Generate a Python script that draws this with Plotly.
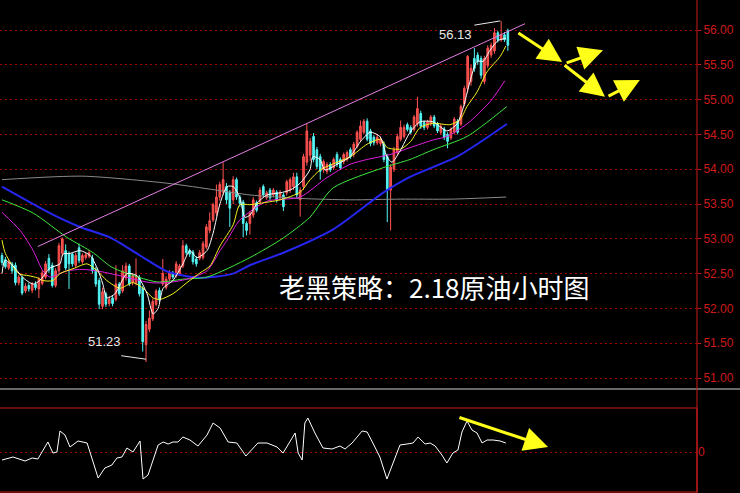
import plotly.graph_objects as go

# ---------------- hourly candles (crude oil) ----------------
opens = [52.76, 52.70, 52.58, 52.64, 52.62, 52.37, 52.44, 52.25, 52.33, 52.26,
         52.35, 52.28, 52.36, 52.45, 52.72, 52.62, 52.33, 52.54, 52.79, 52.83,
         52.78, 52.78, 52.62, 52.87, 52.67, 52.73, 52.75, 52.72, 52.56, 52.40,
         52.03, 52.21, 52.07, 52.15, 52.13, 52.35, 52.25, 52.44, 52.61, 52.37,
         52.36, 52.44, 52.29, 51.48, 51.70, 51.85, 52.06, 52.26, 52.35, 52.30,
         52.42, 52.51, 52.47, 52.50, 52.61, 52.90, 52.83, 52.81, 52.71, 52.72,
         52.73, 52.88, 53.12, 53.27, 53.37, 53.60, 53.67, 53.75, 53.67, 53.56,
         53.85, 53.60, 53.53, 53.22, 53.22, 53.34, 53.52, 53.53, 53.75, 53.59,
         53.70, 53.63, 53.67, 53.59, 53.63, 53.66, 53.70, 53.75, 53.89, 53.56,
         53.75, 54.10, 54.20, 54.47, 54.28, 54.18, 53.99, 53.97, 54.07, 54.02,
         54.21, 54.14, 54.11, 54.14, 54.28, 54.21, 54.33, 54.43, 54.53, 54.69,
         54.55, 54.46, 54.38, 54.37, 54.36, 54.18, 53.70, 54.00, 54.24, 54.43,
         54.47, 54.64, 54.60, 54.57, 54.65, 54.80, 54.67, 54.60, 54.65, 54.75,
         54.65, 54.53, 54.58, 54.50, 54.45, 54.53, 54.69, 54.65, 54.94, 55.16,
         55.26, 55.59, 55.64, 55.59, 55.26, 55.49, 55.64, 55.70, 55.96, 55.86,
         55.93, 55.99]
highs = [52.80, 52.74, 52.70, 52.67, 52.66, 52.48, 52.47, 52.36, 52.37, 52.38,
         52.39, 52.45, 52.55, 52.68, 52.78, 52.66, 52.58, 52.94, 53.02, 52.92,
         52.82, 52.80, 52.80, 52.93, 52.79, 52.80, 52.84, 52.77, 52.60, 52.44,
         52.30, 52.24, 52.18, 52.19, 52.62, 52.38, 52.62, 52.66, 52.64, 52.50,
         52.72, 52.48, 52.32, 51.82, 51.97, 52.14, 52.28, 52.30, 52.71, 52.46,
         52.55, 52.54, 52.68, 52.64, 52.98, 52.93, 52.86, 52.84, 52.75, 52.84,
         52.97, 53.21, 53.38, 53.52, 53.78, 53.82, 54.10, 53.80, 53.70, 53.90,
         53.88, 53.63, 53.56, 53.25, 53.40, 53.60, 53.55, 53.74, 53.78, 53.69,
         53.73, 53.73, 53.70, 53.70, 53.66, 53.85, 53.88, 53.95, 53.95, 53.74,
         54.22, 54.66, 54.45, 54.52, 54.32, 54.22, 54.14, 54.10, 54.10, 54.17,
         54.25, 54.17, 54.24, 54.27, 54.31, 54.39, 54.56, 54.70, 54.72, 54.73,
         54.58, 54.49, 54.50, 54.47, 54.40, 54.22, 54.07, 54.32, 54.51, 54.70,
         54.64, 54.67, 54.63, 54.78, 55.04, 54.84, 54.70, 54.71, 54.78, 54.78,
         54.68, 54.65, 54.61, 54.53, 54.60, 54.75, 54.72, 54.93, 55.20, 55.64,
         55.50, 55.74, 55.68, 55.63, 55.63, 55.78, 55.82, 56.03, 55.99, 56.13,
         55.97, 56.02]
lows = [52.62, 52.57, 52.55, 52.50, 52.33, 52.33, 52.19, 52.22, 52.24, 52.22,
        52.26, 52.15, 52.33, 52.42, 52.51, 52.30, 52.30, 52.50, 52.75, 52.55,
        52.28, 52.60, 52.58, 52.65, 52.64, 52.70, 52.72, 52.50, 52.31, 51.99,
        51.99, 52.02, 52.03, 52.03, 52.10, 52.18, 52.22, 52.40, 52.32, 52.33,
        52.33, 52.17, 51.38, 51.23, 51.66, 51.82, 52.03, 52.09, 52.32, 52.27,
        52.39, 52.42, 52.44, 52.47, 52.58, 52.77, 52.74, 52.63, 52.60, 52.69,
        52.70, 52.85, 53.08, 53.24, 53.33, 53.55, 53.63, 53.50, 53.17, 53.50,
        53.56, 53.46, 53.02, 53.05, 53.06, 53.30, 53.38, 53.49, 53.60, 53.56,
        53.55, 53.60, 53.52, 53.55, 53.40, 53.62, 53.66, 53.70, 53.58, 53.32,
        53.70, 54.05, 54.12, 54.10, 54.00, 53.85, 53.95, 53.93, 53.96, 53.99,
        54.03, 53.99, 54.07, 54.11, 54.15, 54.17, 54.30, 54.40, 54.50, 54.40,
        54.33, 54.34, 54.35, 54.33, 54.10, 53.24, 53.12, 53.96, 54.20, 54.40,
        54.44, 54.54, 54.50, 54.54, 54.61, 54.58, 54.56, 54.57, 54.62, 54.59,
        54.52, 54.50, 54.42, 54.30, 54.42, 54.50, 54.50, 54.62, 54.90, 55.10,
        55.20, 55.40, 55.50, 55.30, 55.22, 55.45, 55.60, 55.66, 55.82, 55.83,
        55.83, 55.70]
closes = [52.66, 52.60, 52.66, 52.54, 52.37, 52.45, 52.22, 52.32, 52.28, 52.35,
          52.30, 52.42, 52.51, 52.64, 52.55, 52.33, 52.54, 52.90, 53.00, 52.58,
          52.64, 52.64, 52.76, 52.69, 52.76, 52.77, 52.80, 52.54, 52.35, 52.06,
          52.24, 52.06, 52.13, 52.07, 52.35, 52.21, 52.54, 52.61, 52.35, 52.47,
          52.47, 52.21, 51.52, 51.77, 51.86, 52.10, 52.25, 52.12, 52.50, 52.42,
          52.51, 52.45, 52.64, 52.61, 52.90, 52.80, 52.78, 52.67, 52.64, 52.80,
          52.93, 53.17, 53.26, 53.49, 53.60, 53.78, 53.85, 53.56, 53.44, 53.85,
          53.60, 53.51, 53.22, 53.12, 53.37, 53.56, 53.41, 53.70, 53.63, 53.66,
          53.59, 53.70, 53.56, 53.67, 53.46, 53.82, 53.85, 53.89, 53.63, 53.70,
          54.18, 54.55, 54.40, 54.14, 54.04, 53.97, 54.11, 54.07, 53.99, 54.14,
          54.07, 54.02, 54.21, 54.24, 54.18, 54.36, 54.53, 54.62, 54.69, 54.43,
          54.37, 54.38, 54.46, 54.43, 54.14, 53.70, 54.03, 54.28, 54.47, 54.60,
          54.60, 54.57, 54.53, 54.75, 54.87, 54.62, 54.60, 54.68, 54.75, 54.62,
          54.55, 54.62, 54.46, 54.40, 54.57, 54.72, 54.53, 54.90, 55.16, 55.62,
          55.45, 55.45, 55.55, 55.35, 55.59, 55.74, 55.78, 55.96, 55.86, 55.93,
          55.86, 55.78]
bar_index = list(range(len(opens)))

# ---------------- moving averages ----------------
ma_white_idx = [0, 0.9, 3.3, 6.3, 9.3, 11.3, 14.3, 17.3, 18.2, 20.3, 23.3, 26.3, 28.4, 30.1,
                31.3, 33.7, 37.3, 40.3, 43.3, 45.1, 46.6, 48.1, 51, 54, 56.1, 58.2, 61.2, 63,
                65.1, 67.2, 69, 71, 72.5, 74, 76.1, 79.1, 83, 86, 89, 91.9, 92.8, 94.9, 96.4,
                100, 103.9, 106.9, 109.9, 112.8, 114.9, 116.4, 118.8, 121.8, 124.8, 128.7,
                132.8, 135.8, 137.6, 139.7, 141.8, 143.6, 145.7, 148.1, 150.4]
ma_white_val = [52.50, 52.69, 52.61, 52.44, 52.35, 52.40, 52.58, 52.64, 52.78, 52.79, 52.83,
                52.76, 52.58, 52.35, 52.15, 52.21, 52.50, 52.47, 52.21, 51.92, 52.00, 52.29,
                52.40, 52.64, 52.83, 52.73, 52.83, 53.08, 53.51, 53.75, 53.75, 53.59, 53.31,
                53.34, 53.51, 53.63, 53.66, 53.70, 53.80, 53.99, 54.18, 54.14, 53.99, 54.07,
                54.18, 54.39, 54.53, 54.47, 54.18, 54.10, 54.26, 54.53, 54.68, 54.68, 54.55,
                54.65, 54.87, 55.26, 55.55, 55.55, 55.71, 55.85, 55.88]
ma_yellow_idx = [0, 1, 5, 8, 10.5, 12.2, 15.2, 17.3, 21.2, 25.4, 28.4, 31.3, 35.2, 39.1, 42.1,
                 45.1, 47.2, 51, 55.2, 59.1, 62.1, 65.1, 69, 71, 74, 77, 83, 89, 92, 95, 99,
                 104, 109, 113, 115, 119, 122, 124.8, 128.7, 133.7, 136.7, 138.8, 141.8,
                 144.8, 148.7, 150.4]
ma_yellow_val = [52.98, 52.79, 52.50, 52.47, 52.44, 52.40, 52.40, 52.50, 52.57, 52.64, 52.54,
                 52.40, 52.29, 52.37, 52.29, 52.15, 52.13, 52.21, 52.37, 52.51, 52.61, 52.90,
                 53.20, 53.49, 53.49, 53.51, 53.56, 53.67, 53.85, 53.99, 54.08, 54.18, 54.36,
                 54.43, 54.31, 54.29, 54.40, 54.60, 54.66, 54.64, 54.71, 54.90, 55.11, 55.40,
                 55.62, 55.77]
ma_magenta_idx = [0, 5.4, 9.3, 12.2, 14.3, 19.4, 24.2, 29.3, 35.2, 44.2, 49.3, 55.2, 61.2,
                  65.1, 67.2, 71, 79.1, 89, 97, 103.9, 109, 115.8, 121.8, 128.7, 132.8,
                  138.8, 145.7, 150.1]
ma_magenta_val = [53.38, 53.12, 52.83, 52.54, 52.45, 52.54, 52.56, 52.53, 52.47, 52.37, 52.37,
                  52.42, 52.54, 52.83, 52.98, 53.27, 53.54, 53.60, 53.88, 54.07, 54.14, 54.21,
                  54.31, 54.42, 54.47, 54.65, 54.97, 55.27]
ma_green_idx = [0, 9.3, 19.4, 27.2, 32.2, 35.2, 46.3, 54, 61.2, 74, 83.9, 91.9, 98.8, 113.7,
                121.8, 128.7, 138.8, 150.7]
ma_green_val = [53.56, 53.37, 53.02, 52.80, 52.61, 52.54, 52.38, 52.42, 52.45, 52.73, 53.01,
                53.31, 53.73, 54.02, 54.14, 54.28, 54.47, 54.90]
ma_blue_idx = [0, 14.3, 23.3, 32.2, 41.2, 49.3, 59, 69, 74, 84, 99, 113.7, 121.8, 135.8, 150.7]
ma_blue_val = [53.75, 53.37, 53.17, 53.02, 52.76, 52.53, 52.44, 52.50, 52.62, 52.80, 53.14,
               53.66, 53.89, 54.18, 54.65]
ma_gray_idx = [0, 24, 49, 64, 74, 89, 104, 119, 134, 150.5]
ma_gray_val = [53.85, 53.90, 53.80, 53.70, 53.63, 53.58, 53.56, 53.57, 53.57, 53.60]

# ---------------- lower oscillator ----------------
osc_idx = [0, 3.3, 6.9, 9.0, 10.7, 13.7, 15.2, 16.4, 17.3, 18.8, 20.3, 22.7, 25.4, 27.2, 28.7,
           30.7, 32.8, 34.3, 35.8, 37.3, 39.1, 41.2, 42.1, 43.6, 45.1, 46.6, 48.1, 49.6, 51.0,
           52.5, 54.0, 56.1, 58.5, 61.2, 63.0, 65.1, 67.5, 70.1, 72.8, 74.6, 76.4, 79.1, 82.1,
           83.9, 86.0, 87.5, 88.4, 89.6, 90.4, 91.3, 93.4, 95.8, 98.5, 100.9, 102.4, 104.5,
           107.5, 109.0, 110.7, 112.8, 114.9, 116.7, 118.8, 120.9, 122.7, 124.2, 126.3, 127.8,
           129.3, 131.3, 132.8, 134.6, 136.1, 137.3, 138.8, 140.3, 141.8, 143.3, 144.8, 146.6,
           148.7, 150.4]
osc_val = [-0.8, -0.5, -0.9, -0.6, -0.7, 1.0, -0.1, 0.0, 2.1, 1.7, 0.5, 1.1, 0.9, -1.1, -2.6,
           -1.6, -1.3, -0.6, -0.5, 0.4, 0.0, 1.1, -2.7, -2.3, -0.8, 0.7, 1.0, 0.8, 1.0, 1.0,
           1.5, 1.2, 0.6, 1.7, 2.9, 2.4, 1.0, 0.9, -0.4, 0.3, 0.9, 0.9, 0.5, -0.1, 1.0, 1.9,
           -0.1, -0.8, 2.9, 3.4, 1.9, 0.4, 0.3, 0.6, 0.3, 0.9, 2.1, 2.0, 0.9, -0.5, -2.7, -1.1,
           0.7, 0.8, 0.9, 1.5, 0.8, 0.9, 0.6, -0.3, -1.1, -0.1, 0.2, 2.0, 3.1, 2.2, 1.9, 0.9,
           1.2, 1.2, 1.1, 0.9]

title_text = "老黑策略：2.18原油小时图"
low_label = "51.23"
high_label = "56.13"

RED = "#cc1a1a"
W, H = 740, 493
XR = 697 / W

fig = go.Figure()
fig.add_trace(go.Candlestick(
    x=bar_index, open=opens, high=highs, low=lows, close=closes,
    increasing=dict(line=dict(color="#ff5454", width=1), fillcolor="#e8463f"),
    decreasing=dict(line=dict(color="#54f4f4", width=1), fillcolor="#54f4f4"),
    whiskerwidth=0, showlegend=False, hoverinfo="skip"))

def ma(xs, ys, color, width=1):
    fig.add_trace(go.Scatter(x=xs, y=ys, mode="lines", hoverinfo="skip", showlegend=False,
                             line=dict(color=color, width=width, shape="spline", smoothing=0.7)))

ma(ma_gray_idx, ma_gray_val, "#8a8a8a")
ma(ma_blue_idx, ma_blue_val, "#2626f0", 2)
ma(ma_green_idx, ma_green_val, "#3ee83e")
ma(ma_magenta_idx, ma_magenta_val, "#e01ee0")
ma(ma_yellow_idx, ma_yellow_val, "#f5f51e")
ma(ma_white_idx, ma_white_val, "#ffffff")

# upper channel line
fig.add_trace(go.Scatter(x=[10.7, 156.1], y=[52.89, 56.09], mode="lines", hoverinfo="skip",
                         showlegend=False, line=dict(color="#e47ee4", width=1)))
# label leader lines
lo_i = lows.index(min(lows))
hi_i = highs.index(max(highs))
fig.add_trace(go.Scatter(x=[35.6, lo_i], y=[51.32, min(lows) + 0.04], mode="lines",
                         hoverinfo="skip", showlegend=False, line=dict(color="#e8e8e8", width=1)))
fig.add_trace(go.Scatter(x=[141.0, hi_i - 0.3], y=[max(highs) - 0.06, max(highs)], mode="lines",
                         hoverinfo="skip", showlegend=False, line=dict(color="#e8e8e8", width=1)))

# oscillator
fig.add_trace(go.Scatter(x=osc_idx, y=osc_val, mode="lines", yaxis="y2", hoverinfo="skip",
                         showlegend=False, line=dict(color="#ffffff", width=1)))

def arrow(x, y, ax, ay, yref="y"):
    return dict(x=x, y=y, ax=ax, ay=ay, xref="x", yref=yref, axref="x", ayref=yref,
                text="", showarrow=True, arrowhead=2, arrowsize=1.6, arrowwidth=3,
                arrowcolor="#ffff1a", standoff=0)

annotations = [
    dict(text=title_text, x=277 / W, y=1 - 286 / H, xref="paper", yref="paper",
         xanchor="left", yanchor="middle", showarrow=False,
         font=dict(family="Noto Sans CJK SC", size=26, color="#ffffff")),
    dict(text=low_label, x=30.7, y=51.52, xref="x", yref="y", showarrow=False,
         font=dict(family="Liberation Sans", size=13, color="#e8e8e8")),
    dict(text=high_label, x=135.5, y=55.94, xref="x", yref="y", showarrow=False,
         font=dict(family="Liberation Sans", size=13, color="#e8e8e8")),
    dict(text="56.50", x=700 / W, y=56.5, xref="paper", yref="y", xanchor="left",
         yanchor="middle", showarrow=False,
         font=dict(family="Liberation Sans", size=12, color=RED)),
    arrow(167.2, 55.54, 153.7, 55.97),
    arrow(179.4, 55.71, 168.1, 55.52),
    arrow(180.0, 55.04, 167.5, 55.51),
    arrow(190.4, 55.28, 180.6, 55.04),
    arrow(163.0, 0.5, 136.1, 3.5, yref="y2"),
]

shapes = [
    dict(type="line", xref="paper", yref="paper", x0=0, x1=1, y0=1 - 389 / H, y1=1 - 389 / H,
         line=dict(color="#cfcfcf", width=1)),
    dict(type="line", xref="paper", yref="paper", x0=XR, x1=XR, y0=0, y1=1,
         line=dict(color=RED, width=1)),
    dict(type="rect", xref="paper", yref="paper", x0=-0.01, x1=XR, y0=1 / H, y1=1 - 408 / H,
         line=dict(color=RED, width=1)),
]

fig.update_layout(
    width=W, height=H, margin=dict(l=0, r=0, t=0, b=0),
    paper_bgcolor="#000000", plot_bgcolor="#000000", showlegend=False,
    annotations=annotations, shapes=shapes,
    xaxis=dict(domain=[0, XR], range=[-0.6, 207.46], showgrid=False, zeroline=False,
               showticklabels=False, ticks="", showline=False,
               rangeslider=dict(visible=False), fixedrange=True),
    yaxis=dict(domain=[1 - 389 / H, 1], range=[50.842, 56.431], side="right", anchor="x",
               tickmode="linear", tick0=51, dtick=0.5, tickformat=".2f",
               tickfont=dict(family="Liberation Sans", size=12, color=RED),
               showgrid=True, gridcolor="#a00000", griddash="2px,3px", gridwidth=1,
               zeroline=False, ticks="outside", ticklen=3, tickcolor=RED, showline=False),
    yaxis2=dict(domain=[1 / H, 1 - 408 / H], range=[-4.0, 4.4], side="right", anchor="x",
                tickmode="array", tickvals=[0], ticktext=["0"],
                tickfont=dict(family="Liberation Sans", size=12, color=RED),
                showgrid=True, gridcolor="#a00000", griddash="2px,3px", gridwidth=1,
                zeroline=False, ticks="", showline=False),
)

fig.write_html("out.html", config={"displayModeBar": False},
               post_script="document.body.style.margin='0';document.body.style.background='#000';")
